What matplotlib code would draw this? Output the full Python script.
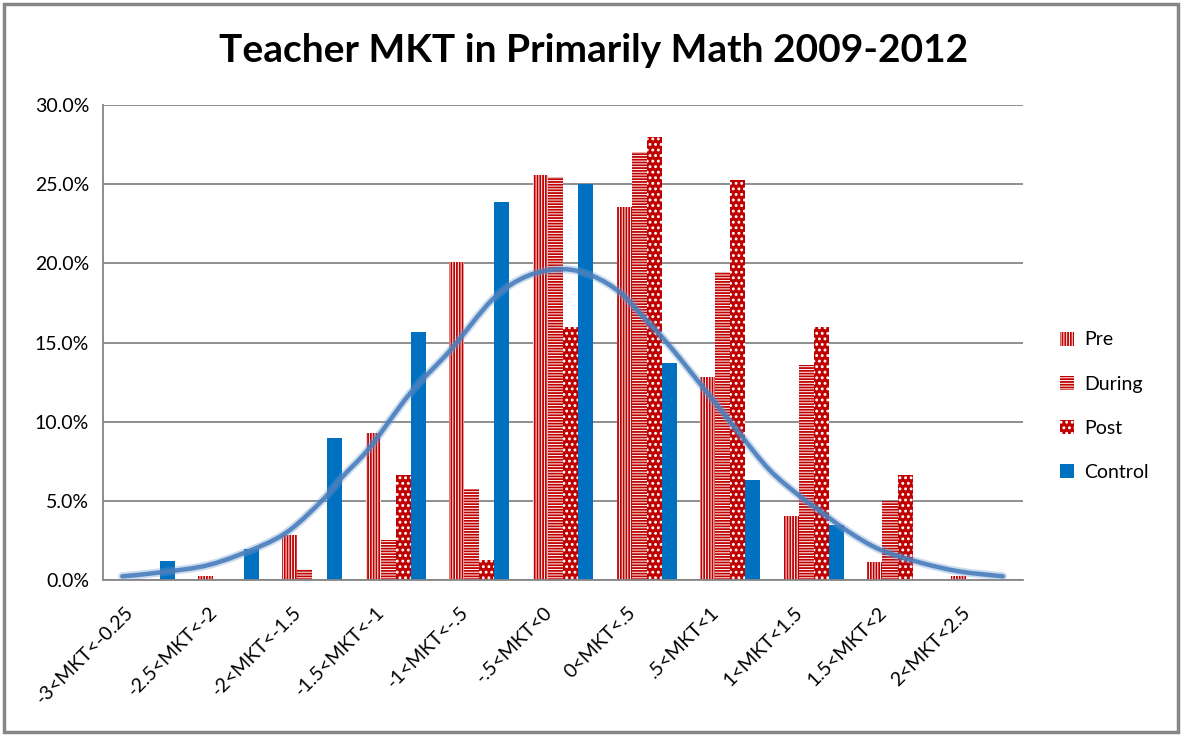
import numpy as np
import matplotlib.pyplot as plt
from matplotlib.patches import Rectangle, Patch
from matplotlib.path import Path
from matplotlib.patches import PathPatch
from matplotlib.ticker import PercentFormatter
from matplotlib.transforms import ScaledTranslation

plt.rcParams['font.family'] = ['Lato', 'DejaVu Sans']
plt.rcParams['hatch.linewidth'] = 1.3

categories = ['-3<MKT<-0.25', '-2.5<MKT<-2', '-2<MKT<-1.5', '-1.5<MKT<-1', '-1<MKT<-.5',
              '-.5<MKT<0', '0<MKT<.5', '.5<MKT<1', '1<MKT<1.5', '1.5<MKT<2', '2<MKT<2.5']
pre = [0.0, 0.27, 2.87, 9.26, 20.08, 25.6, 23.56, 12.8, 4.06, 1.16, 0.27]
during = [0.0, 0.0, 0.72, 2.5, 5.78, 25.46, 27.04, 19.45, 13.56, 5.0, 0.0]
post = [0.0, 0.0, 0.0, 6.66, 1.28, 15.97, 28.0, 25.3, 15.97, 6.66, 0.0]
control = [1.18, 1.98, 9.0, 15.65, 23.88, 25.04, 13.69, 6.3, 3.5, 0.0, 0.0]

# smoothed curve (x in category units, y in %)
curve_x = [-0.27, 0.19, 0.78, 1.38, 1.74, 2.13, 2.37, 2.69, 3.17, 3.65, 4.16, 4.57, 5.0,
           5.36, 5.68, 5.92, 6.28, 6.76, 7.11, 7.47, 7.83, 7.99, 8.4, 8.79, 9.27, 9.74, 10.26]
curve_y = [0.23, 0.48, 0.97, 2.13, 3.18, 5.08, 6.56, 8.37, 11.78, 14.5, 17.74, 19.2, 19.64,
           19.2, 18.18, 16.85, 14.76, 11.6, 9.26, 6.95, 5.3, 4.68, 3.1, 1.92, 1.1, 0.54, 0.23]

red = '#C00000'
blue = '#0070C0'


def smooth_path(xs, ys):
    # bezier path through the points (catmull-rom style, like a smoothed excel line)
    p = np.column_stack([xs, ys])
    verts = [p[0]]
    codes = [Path.MOVETO]
    for i in range(len(p) - 1):
        p0 = p[i - 1] if i > 0 else p[i]
        p3 = p[i + 2] if i + 2 < len(p) else p[i + 1]
        c1 = p[i] + (p[i + 1] - p0) / 6
        c2 = p[i + 1] - (p3 - p[i]) / 6
        verts += [c1, c2, p[i + 1]]
        codes += [Path.CURVE4] * 3
    return Path(verts, codes)


fig = plt.figure(figsize=(11.87, 7.36), dpi=100)
fig.patches.append(Rectangle((0.003, 0.005), 0.989, 0.99, transform=fig.transFigure,
                             fill=False, edgecolor='#868686', linewidth=2.5))
ax = fig.add_axes([0.0868, 0.212, 0.775, 0.645])

x = np.arange(len(categories))
w = 0.18
ax.bar(x - 1.5 * w, pre, w, facecolor='white', edgecolor=red, hatch='||||||', linewidth=0, zorder=2)
ax.bar(x - 0.5 * w, during, w, facecolor='white', edgecolor=red, hatch='------', linewidth=0, zorder=2)
ax.bar(x + 0.5 * w, post, w, facecolor=red, edgecolor='white', hatch='...', linewidth=0, zorder=2)
ax.bar(x + 1.5 * w, control, w, color=blue, linewidth=0, zorder=2)

# soft blue curve
curve = smooth_path(curve_x, curve_y)
ax.add_patch(PathPatch(curve, fill=False, edgecolor='#6F9AD0', lw=6, alpha=0.35,
                       capstyle='round', zorder=3))
ax.add_patch(PathPatch(curve, fill=False, edgecolor='#4A7EBB', lw=3.2, alpha=0.9,
                       capstyle='round', zorder=4))

ax.set_xlim(-0.5, 10.5)
ax.set_ylim(0, 30)
ax.set_yticks(np.arange(0, 30.1, 5))
ax.yaxis.set_major_formatter(PercentFormatter(decimals=1))
ax.grid(axis='y', color='#868686', linewidth=1.3)
ax.set_axisbelow(True)
for s in ['top', 'right']:
    ax.spines[s].set_visible(False)
for s in ['left', 'bottom']:
    ax.spines[s].set_color('#868686')
    ax.spines[s].set_linewidth(1.3)
ax.tick_params(axis='y', length=0, labelsize=14, pad=10)
ax.tick_params(axis='x', length=0, labelsize=14, pad=14)
ax.set_xticks(x)
ax.set_xticklabels(categories, rotation=45, ha='right', rotation_mode='anchor')
shift = ScaledTranslation(-0.2, -0.04, fig.dpi_scale_trans)
for lab in ax.get_xticklabels():
    lab.set_transform(lab.get_transform() + shift)

fig.text(0.5, 0.932, 'Teacher MKT in Primarily Math 2009-2012', ha='center', va='center',
         fontsize=28, fontweight='bold')

handles = [Patch(facecolor='white', edgecolor=red, hatch='||||||', linewidth=0, label='Pre'),
           Patch(facecolor='white', edgecolor=red, hatch='------', linewidth=0, label='During'),
           Patch(facecolor=red, edgecolor='white', hatch='...', linewidth=0, label='Post'),
           Patch(facecolor=blue, linewidth=0, label='Control')]
fig.legend(handles=handles, loc='center left', bbox_to_anchor=(0.878, 0.448), frameon=False,
           fontsize=14, handlelength=0.75, handleheight=0.75, handletextpad=0.5, labelspacing=1.4)

fig.savefig('out.png', dpi=100)
